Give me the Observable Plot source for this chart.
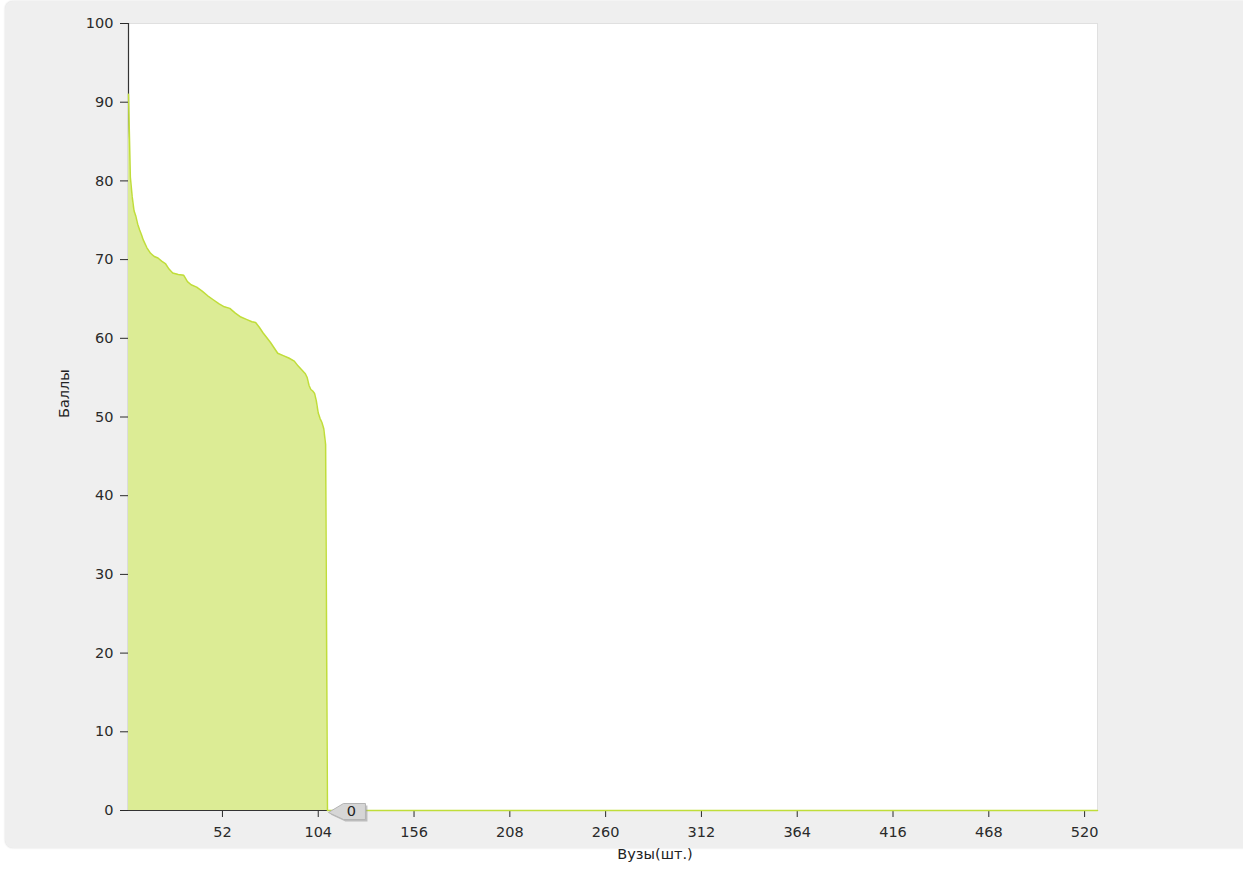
<!DOCTYPE html>
<html>
<head>
<meta charset="utf-8">
<script src="https://cdn.jsdelivr.net/npm/d3@7"></script>
<script src="https://cdn.jsdelivr.net/npm/@observablehq/plot@0.6"></script>
<style>
html, body { margin: 0; padding: 0; background: #ffffff; }
#wrap { position: relative; width: 1243px; height: 870px; overflow: hidden; }
#panel { position: absolute; left: 5px; top: 1px; width: 1270px; height: 847px; background: #efefef; border-radius: 8px; box-shadow: 0 0 2px #d6d6d6; }
#chart { position: absolute; left: 0; top: 0; }
</style>
</head>
<body>
<div id="wrap"><div id="panel"></div><div id="chart"></div></div>
<script>
// University rank (1-based) and score
const ranks = [1, 2, 3, 4, 5, 6, 7, 8, 9, 11, 13, 15, 17, 19, 21, 23, 25, 28, 31, 33, 35, 38, 41, 44, 47, 50, 53, 56, 59, 62, 65, 68, 70, 72, 74, 76, 78, 80, 82, 85, 88, 91, 93, 95, 97, 98, 99, 100, 101, 102, 103, 104, 105, 106, 107, 108, 109, 527];
const scores = [91, 80.5, 78, 76.2, 75.5, 74.5, 73.8, 73.2, 72.5, 71.5, 70.8, 70.4, 70.2, 69.8, 69.5, 68.8, 68.3, 68.1, 68.0, 67.2, 66.8, 66.5, 66.0, 65.4, 64.9, 64.4, 64.0, 63.8, 63.2, 62.7, 62.4, 62.1, 62.0, 61.4, 60.7, 60.1, 59.5, 58.8, 58.1, 57.8, 57.5, 57.1, 56.5, 56.0, 55.5, 55.0, 54.0, 53.5, 53.3, 53.0, 52.0, 50.5, 49.8, 49.3, 48.5, 46.5, 0, 0];

const xTicks = [52, 104, 156, 208, 260, 312, 364, 416, 468, 520];
const yTicks = [0, 10, 20, 30, 40, 50, 60, 70, 80, 90, 100];
const xDomain = [1, 527];
const yDomain = [0, 100];

const xLabel = "Вузы(шт.)";
const yLabel = "Баллы";

// Value marker ("0" callout)
const calloutRanks = [109];
const calloutScores = [0];
const calloutTexts = ["0"];

const data = ranks.map((r, i) => ({rank: r, score: scores[i]}));
const callout = calloutRanks.map((r, i) => ({rank: r, score: calloutScores[i], text: calloutTexts[i]}));

const tagShape = {
  draw(ctx) {
    ctx.moveTo(1, 2);
    ctx.lineTo(16, -7);
    ctx.lineTo(38, -7);
    ctx.lineTo(38, 9);
    ctx.lineTo(16, 9);
    ctx.closePath();
  }
};

const chart = Plot.plot({
  width: 1243,
  height: 870,
  marginLeft: 128,
  marginRight: 146,
  marginTop: 23,
  marginBottom: 60,
  style: {background: "transparent", fontFamily: "DejaVu Sans, sans-serif", fontSize: "14.5px", color: "#2a2a2a"},
  x: {domain: xDomain, ticks: xTicks, tickSize: 7, tickPadding: 9, tickFormat: d => String(d), label: null},
  y: {domain: yDomain, ticks: yTicks, tickSize: 8, tickPadding: 7, tickFormat: d => String(d), label: null},
  marks: [
    Plot.frame({fill: "white", stroke: "#e0e0e0"}),
    Plot.ruleX([xDomain[0]], {stroke: "#333", strokeWidth: 1.2}),
    Plot.ruleY([0], {stroke: "#333", strokeWidth: 1.2}),
    Plot.areaY(data, {x: "rank", y: "score", fill: "#dcec95"}),
    Plot.lineY(data, {x: "rank", y: "score", stroke: "#c0dd3a", strokeWidth: 1.5}),
    // callout shadow, body and text
    Plot.dot(callout, {x: "rank", y: "score", symbol: tagShape, r: 5, fill: "#9a9a9a", stroke: "none", dx: 2, dy: 2, fillOpacity: 0.6}),
    Plot.dot(callout, {x: "rank", y: "score", symbol: tagShape, r: 5, fill: "#d6d6d6", stroke: "#b4b4b4", strokeWidth: 1}),
    Plot.text(callout, {x: "rank", y: "score", text: "text", dx: 24, dy: 1, fill: "#222", fontSize: 14.5, textAnchor: "middle"}),
    // axis titles
    Plot.text([yLabel], {frameAnchor: "left", dx: -64, dy: 1, rotate: -90, fill: "#222", fontSize: 14.5}),
    Plot.text([xLabel], {frameAnchor: "bottom", dx: 42, dy: 48, fill: "#222", fontSize: 14.5})
  ]
});
document.getElementById("chart").appendChild(chart);
</script>
</body>
</html>
